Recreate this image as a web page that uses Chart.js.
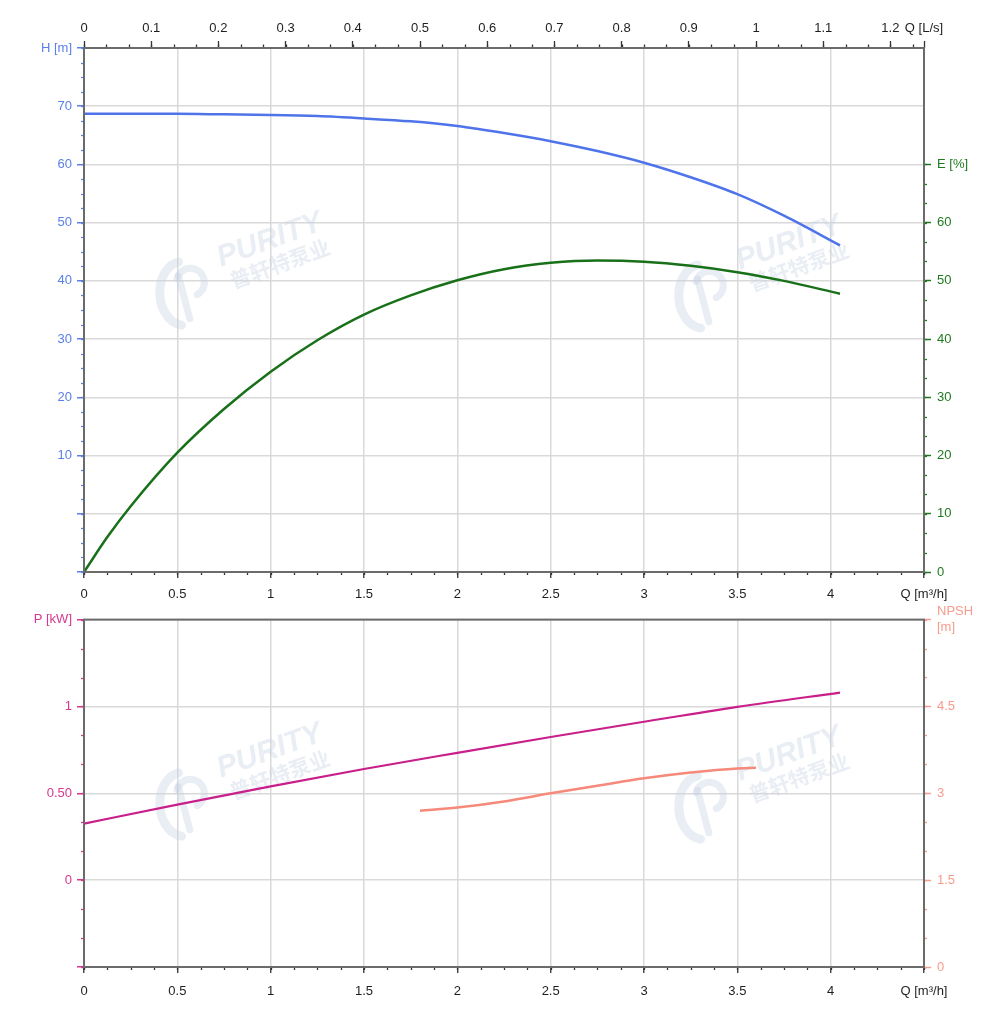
<!DOCTYPE html>
<html><head><meta charset="utf-8">
<script src="https://cdn.jsdelivr.net/npm/chart.js@4/dist/chart.umd.min.js"></script>
<style>
html,body{margin:0;padding:0;background:#fff;}
#wrap{position:relative;width:1000px;height:1028px;overflow:hidden;}
#c1{position:absolute;left:0;top:0;}
#c2{position:absolute;left:0;top:598px;}
</style></head><body>
<div id="wrap"><canvas id="c1" width="1000" height="610"></canvas><canvas id="c2" width="1000" height="430"></canvas></div>
<script>
// ---------- data ----------
const Q_H = [0,0.25,0.5,0.75,1,1.25,1.5,1.75,2,2.25,2.5,2.75,3,3.25,3.5,3.75,4.05];
const H   = [68.7,68.7,68.7,68.6,68.5,68.3,67.9,67.4,66.6,65.4,64.0,62.3,60.3,57.8,54.9,51.2,46.1];
const Q_E = [0,0.125,0.25,0.5,0.75,1,1.25,1.5,1.75,2,2.25,2.5,2.75,3,3.25,3.5,3.75,4.05];
const E   = [0,6,11.3,20.5,28,34.4,39.8,44.2,47.5,50.1,52.0,53.1,53.5,53.3,52.6,51.5,50.0,47.8];
const Q_P = [0,0.5,1,1.5,2,2.5,3,3.5,4.05];
const P   = [0.325,0.435,0.54,0.64,0.733,0.824,0.912,0.998,1.08];
const Q_NPSH = [1.8,2,2.25,2.5,2.75,3,3.25,3.5,3.6];
const NPSH   = [2.70,2.755,2.86,3.0,3.13,3.26,3.36,3.43,3.44];

// ---------- ticks ----------
const qTicks  = [0,0.5,1,1.5,2,2.5,3,3.5,4,4.5];
const qLabels = ['0','0.5','1','1.5','2','2.5','3','3.5','4','Q [m³/h]'];
const lsTicks  = [0,0.1,0.2,0.3,0.4,0.5,0.6,0.7,0.8,0.9,1,1.1,1.2,1.25];
const lsLabels = ['0','0.1','0.2','0.3','0.4','0.5','0.6','0.7','0.8','0.9','1','1.1','1.2','Q [L/s]'];
const hTicks  = [-10,0,10,20,30,40,50,60,70,80];
const hLabels = ['','','10','20','30','40','50','60','70','H [m]'];
const eTicks  = [0,10,20,30,40,50,60,70];
const eLabels = ['0','10','20','30','40','50','60','E [%]'];
const pTicks  = [-0.5,0,0.5,1,1.5];
const pLabels = ['','0','0.50','1','P [kW]'];
const nTicks  = [0,1.5,3,4.5,6];
const nLabels = ['0','1.5','3','4.5',['NPSH','[m]']];

// ---------- style ----------
const FONT = {family:'"Liberation Sans", Arial, sans-serif', size:13};
const GRID = '#d9d9d9';
const BORDER = '#6b6b6b';
const C_H = '#4f74ea', C_HL = '#5b80e6';
const C_E = '#187018', C_EL = '#1f7a1f';
const C_P = '#c91f8b', C_PL = '#d8378f';
const C_N = '#f6897a', C_NL = '#f79b8d';

function setTicks(vals){ return s => { s.ticks = vals.map(v => ({value:v})); }; }
function lab(arr){ return (v,i) => arr[i]; }

function wm(ctx,x,y){
  ctx.save();
  ctx.translate(x,y);
  ctx.rotate(-20*Math.PI/180);
  ctx.fillStyle='rgba(200,210,228,0.40)';
  ctx.strokeStyle='rgba(200,210,228,0.40)';
  ctx.font='italic bold 30px "Liberation Sans", Arial, sans-serif';
  ctx.fillText('PURITY',0,0);
  ctx.font='bold 21px "Noto Sans CJK SC"';
  ctx.fillText('普轩特泵业',4,25);
  ctx.lineCap='round';
  ctx.lineWidth=9;
  ctx.beginPath(); ctx.ellipse(-44,12,24,32,0.3,Math.PI*0.55,Math.PI*1.45); ctx.stroke();
  ctx.lineWidth=7;
  ctx.beginPath(); ctx.arc(-34,4,14,Math.PI*1.2,Math.PI*0.45); ctx.stroke();
  ctx.beginPath(); ctx.moveTo(-43,-6); ctx.lineTo(-47,38); ctx.stroke();
  ctx.restore();
}

const deco = {
  id:'deco',
  beforeDatasetsDraw(chart,args,opts){
    const ctx=chart.ctx, a=chart.chartArea;
    ctx.save();
    ctx.beginPath(); ctx.rect(a.left,a.top,a.right-a.left,a.bottom-a.top); ctx.clip();
    (opts.marks||[]).forEach(m=>wm(ctx,m[0],m[1]));
    ctx.restore();
  },
  afterDraw(chart,args,opts){
    const ctx=chart.ctx, a=chart.chartArea;
    ctx.save();
    ctx.lineWidth=1.3;
    (opts.minors||[]).forEach(m=>{
      const s=chart.scales[m.id];
      const top=(m.max!==undefined)?m.max:s.max;
      ctx.strokeStyle=m.color;
      const n=Math.floor((top-s.min)/m.step+1e-6);
      for(let i=0;i<=n;i++){
        const v=s.min+i*m.step;
        const p=Math.round(s.getPixelForValue(v))+0.5;
        ctx.beginPath();
        if(s.position==='bottom'){ctx.moveTo(p,a.bottom);ctx.lineTo(p,a.bottom+m.len);}
        else if(s.position==='top'){ctx.moveTo(p,a.top);ctx.lineTo(p,a.top-m.len);}
        else if(s.position==='left'){ctx.moveTo(a.left,p);ctx.lineTo(a.left-m.len,p);}
        else {ctx.moveTo(a.right,p);ctx.lineTo(a.right+m.len,p);}
        ctx.stroke();
      }
    });
    ctx.strokeStyle=BORDER; ctx.lineWidth=2;
    ctx.strokeRect(a.left,a.top,a.right-a.left,a.bottom-a.top);
    ctx.restore();
  }
};

function line(data,xs,color,yid,w){
  return {data:xs.map((q,i)=>({x:q,y:data[i]})),borderColor:color,borderWidth:w,showLine:true,
    pointRadius:0,fill:false,cubicInterpolationMode:'monotone',yAxisID:yid,xAxisID:'x'};
}

const common = {
  responsive:false, devicePixelRatio:1, animation:false,
  plugins:{legend:{display:false},tooltip:{enabled:false}},
};

// ---------- top chart ----------
new Chart(document.getElementById('c1'),{
  type:'scatter',
  data:{datasets:[line(H,Q_H,C_H,'y',2.5), line(E,Q_E,C_E,'y2',2.5)]},
  options:Object.assign({},common,{
    layout:{padding:0},
    plugins:{legend:{display:false},tooltip:{enabled:false},
      deco:{marks:[[221,267],[740,270]],
        minors:[{id:'x',step:0.125,len:3,color:'#333'},{id:'x2',step:1/30,len:3.5,color:'#333'},
                {id:'y',step:2.5,len:3,color:C_HL},{id:'y2',step:10/3,len:3,color:C_EL,max:70}]}},
    scales:{
      x:{type:'linear',position:'bottom',min:0,max:4.5,afterBuildTicks:setTicks(qTicks),
        afterFit:s=>{s.height=38;},
        ticks:{callback:lab(qLabels),autoSkip:false,maxRotation:0,color:'#1e1e1e',font:FONT,padding:9},
        grid:{color:GRID,lineWidth:1.5,tickLength:6,tickColor:'#333',tickWidth:1.3},border:{display:false}},
      x2:{type:'linear',position:'top',min:0,max:1.25,afterBuildTicks:setTicks(lsTicks),
        afterFit:s=>{s.height=48;},
        ticks:{callback:lab(lsLabels),autoSkip:false,maxRotation:0,color:'#1e1e1e',font:FONT,padding:5},
        grid:{drawOnChartArea:false,tickLength:7,tickColor:'#333',tickWidth:1.3},border:{display:false}},
      y:{type:'linear',position:'left',min:-10,max:80,afterBuildTicks:setTicks(hTicks),
        afterFit:s=>{s.width=84;},
        ticks:{callback:lab(hLabels),autoSkip:false,color:C_HL,font:FONT,padding:5},
        grid:{color:GRID,lineWidth:1.5,tickLength:7,tickColor:C_HL,tickWidth:1.5},border:{display:false}},
      y2:{type:'linear',position:'right',min:0,max:90,afterBuildTicks:setTicks(eTicks),
        afterFit:s=>{s.width=76;},
        ticks:{callback:lab(eLabels),autoSkip:false,color:C_EL,font:FONT,padding:6},
        grid:{drawOnChartArea:false,tickLength:7,tickColor:C_EL,tickWidth:1.5},border:{display:false}}
    }
  }),
  plugins:[deco]
});

// ---------- bottom chart ----------
new Chart(document.getElementById('c2'),{
  type:'scatter',
  data:{datasets:[line(P,Q_P,C_P,'y',2.2), line(NPSH,Q_NPSH,C_N,'y2',2.5)]},
  options:Object.assign({},common,{
    layout:{padding:{top:20,left:0,right:0,bottom:0}},
    plugins:{legend:{display:false},tooltip:{enabled:false},
      deco:{marks:[[221,180],[740,183]],
        minors:[{id:'x',step:0.125,len:3,color:'#333'},
                {id:'y',step:1/6,len:3,color:C_PL},{id:'y2',step:0.5,len:3,color:C_NL}]}},
    scales:{
      x:{type:'linear',position:'bottom',min:0,max:4.5,afterBuildTicks:setTicks(qTicks),
        afterFit:s=>{s.height=61;},
        ticks:{callback:lab(qLabels),autoSkip:false,maxRotation:0,color:'#1e1e1e',font:FONT,padding:11},
        grid:{color:GRID,lineWidth:1.5,tickLength:6,tickColor:'#333',tickWidth:1.3},border:{display:false}},
      y:{type:'linear',position:'left',min:-0.5,max:1.5,afterBuildTicks:setTicks(pTicks),
        afterFit:s=>{s.width=84;},
        ticks:{callback:lab(pLabels),autoSkip:false,color:C_PL,font:FONT,padding:5},
        grid:{color:GRID,lineWidth:1.5,tickLength:7,tickColor:C_PL,tickWidth:1.5},border:{display:false}},
      y2:{type:'linear',position:'right',min:0,max:6,afterBuildTicks:setTicks(nTicks),
        afterFit:s=>{s.width=76;},
        ticks:{callback:lab(nLabels),autoSkip:false,color:C_NL,font:FONT,padding:6},
        grid:{drawOnChartArea:false,tickLength:7,tickColor:C_NL,tickWidth:1.5},border:{display:false}}
    }
  }),
  plugins:[deco]
});
</script>
</body></html>
